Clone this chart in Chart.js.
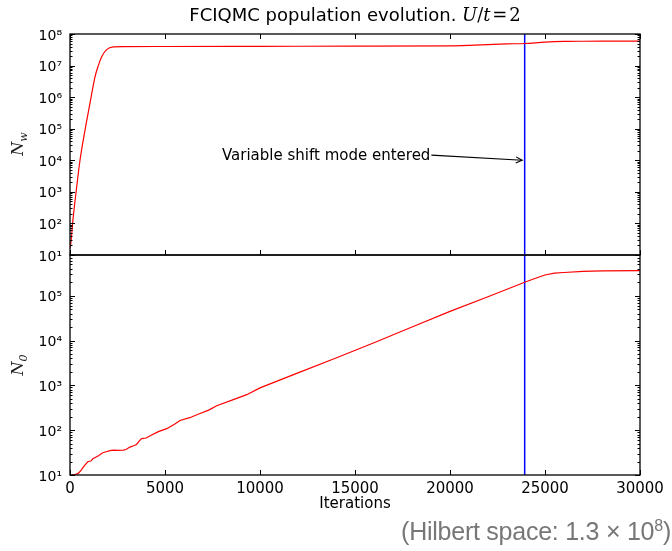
<!DOCTYPE html>
<html><head><meta charset="utf-8">
<script src="https://cdn.jsdelivr.net/npm/chart.js@4"></script>
<style>
html,body{margin:0;padding:0;background:#fff;}
#wrap{position:relative;width:672px;height:551px;overflow:hidden;background:#fff;}
canvas{position:absolute;left:0;top:0;}
.t{position:absolute;white-space:nowrap;}
#title{left:0;width:710px;top:4px;text-align:center;font:18px "DejaVu Sans";color:#000;}
.m{font-family:"DejaVu Serif";}
.mi{font-family:"DejaVu Serif";font-style:italic;}
.yl{font:italic 16px "DejaVu Serif";color:#222;transform:translate(-50%,-50%) rotate(-90deg);}
.yl sub{font-size:11px;}
#hil{right:1px;top:517px;font:25px "Liberation Sans";color:#777;letter-spacing:-0.25px;}
#hil sup{font-size:16px;}
</style></head><body>
<div id="wrap">
<canvas id="c2" width="672" height="551"></canvas>
<canvas id="c1" width="672" height="275"></canvas>
<div class="t" id="title">FCIQMC population evolution. <span class="mi">U</span><span class="m">/</span><span class="mi">t</span><span class="m">&#8202;=&#8202;2</span></div>
<div class="t yl" style="left:19px;top:144px;">N<sub>w</sub></div>
<div class="t yl" style="left:19px;top:365px;">N<sub>0</sub></div>
<div class="t" id="hil">(Hilbert space: 1.3 × 10<sup>8</sup>)</div>
</div>
<script>
// ---- data ----
const iterNw = [0, 50, 150, 350, 526, 790, 1050, 1316, 1490, 1667, 1930, 2280, 2800, 5000, 10000, 15000, 20000, 21000, 22000, 23000, 23930, 25000, 26000, 27000, 28000, 30000];
const valNw  = [16, 25, 120, 1400, 1.0e4, 9e4, 6.3e5, 4.4e6, 1.0e7, 1.9e7, 3.2e7, 3.9e7, 4.0e7, 4.02e7, 4.07e7, 4.12e7, 4.2e7, 4.35e7, 4.6e7, 4.85e7, 5.0e7, 5.5e7, 5.8e7, 5.9e7, 5.93e7, 5.95e7];
const iterN0 = [0, 100, 300, 450, 600, 700, 850, 950, 1100, 1200, 1350, 1500, 1700, 1900, 2100, 2300, 2500, 2800, 2950, 3150, 3350, 3500, 3650, 3770, 4000, 4300, 4650, 5090, 5500, 5790, 6300, 6840, 7300, 7720, 8600, 9300, 10000, 12000, 14000, 16000, 18000, 20000, 22000, 23930, 24500, 25000, 25500, 26000, 27000, 28000, 30000];
const valN0  = [10, 10, 10.3, 11, 13, 15, 18, 20, 20.5, 23, 25, 27, 31, 33, 35, 36, 35.5, 36, 37, 42, 45, 48, 58, 65, 67, 78, 93, 108, 135, 165, 190, 235, 280, 350, 480, 620, 880, 1900, 4070, 8900, 2.0e4, 4.47e4, 9.5e4, 2.0e5, 2.45e5, 2.9e5, 3.2e5, 3.3e5, 3.5e5, 3.6e5, 3.63e5];
const shiftIter = 23930;
const xTicks = [0, 5000, 10000, 15000, 20000, 25000, 30000];
const topRange = [10, 1e8];
const botRange = [10, 8.1e5];
const annot = {text: 'Variable shift mode entered', textX: 8000, textY: 1.35e4, tipX: 23800, tipY: 1e4};

const SUP = '⁰¹²³⁴⁵⁶⁷⁸⁹';
function powLabel(v){
  const e = Math.log10(v);
  if (Math.abs(e - Math.round(e)) > 1e-6) return '';
  return '10' + String(Math.round(e)).split('').map(d => SUP[+d]).join('');
}

function framePlugin(topTicks, bottomTicks){
  return {
    id: 'frame',
    afterDatasetsDraw(chart){
      const {ctx, chartArea: a, scales} = chart;
      const xs = scales.x, ys = scales.y;
      ctx.save();
      ctx.strokeStyle = '#000';
      ctx.lineWidth = 1;
      const ln = (x1,y1,x2,y2) => { ctx.beginPath(); ctx.moveTo(x1,y1); ctx.lineTo(x2,y2); ctx.stroke(); };
      const lo = Math.floor(Math.log10(ys.min)), hi = Math.ceil(Math.log10(ys.max));
      for (let e = lo; e <= hi; e++){
        for (let m = 1; m < 10; m++){
          const v = m * Math.pow(10, e);
          if (v < ys.min * 0.999 || v > ys.max * 1.001) continue;
          const y = Math.round(ys.getPixelForValue(v)) + 0.5;
          const L = m === 1 ? 5 : 2.5;
          ln(a.left, y, a.left + L, y);
          ln(a.right, y, a.right - L, y);
        }
      }
      xTicks.forEach(v => {
        const x = Math.round(xs.getPixelForValue(v)) + 0.5;
        if (topTicks) ln(x, a.top, x, a.top + 5);
        if (bottomTicks) ln(x, a.bottom, x, a.bottom - 5);
      });
      ctx.lineWidth = 1.3;
      ctx.strokeRect(a.left, a.top, a.right - a.left, a.bottom - a.top);
      ctx.restore();
    }
  };
}

const annotPlugin = {
  id: 'annot',
  afterDatasetsDraw(chart){
    const {ctx, scales} = chart;
    const xs = scales.x, ys = scales.y;
    const tx = xs.getPixelForValue(annot.textX), ty = ys.getPixelForValue(annot.textY);
    const px = xs.getPixelForValue(annot.tipX), py = ys.getPixelForValue(annot.tipY);
    ctx.save();
    ctx.font = '15px "DejaVu Sans"';
    ctx.fillStyle = '#000';
    ctx.textBaseline = 'middle';
    ctx.textAlign = 'left';
    ctx.fillText(annot.text, tx, ty);
    const w = ctx.measureText(annot.text).width;
    const sx = tx + w + 1, sy = ty - 1;
    ctx.strokeStyle = '#000';
    ctx.lineWidth = 1.1;
    ctx.beginPath(); ctx.moveTo(sx, sy); ctx.lineTo(px, py); ctx.stroke();
    const ang = Math.atan2(py - sy, px - sx), L = 7, da = 0.45;
    ctx.beginPath();
    ctx.moveTo(px - L*Math.cos(ang - da), py - L*Math.sin(ang - da));
    ctx.lineTo(px, py);
    ctx.lineTo(px - L*Math.cos(ang + da), py - L*Math.sin(ang + da));
    ctx.stroke();
    ctx.restore();
  }
};

function yScale(range){
  return {
    type: 'logarithmic', min: range[0], max: range[1],
    afterFit(s){ s.width = 70; s.paddingTop = 0; s.paddingBottom = 0; },
    grid: {display: false, drawTicks: false},
    border: {display: false},
    ticks: {
      autoSkip: false, padding: 8, color: '#000', labelOffset: 2,
      font: {family: 'DejaVu Sans', size: 14},
      callback: (v) => powLabel(v)
    }
  };
}

const common = {
  responsive: false, animation: false, devicePixelRatio: 1,
  plugins: {legend: {display: false}, tooltip: {enabled: false}, title: {display: false}},
  events: []
};

new Chart(document.getElementById('c1'), {
  type: 'line',
  data: {datasets: [
    {data: iterNw.map((x,i) => ({x, y: valNw[i]})), borderColor: '#ff0000', borderWidth: 1.2, pointRadius: 0, cubicInterpolationMode: 'monotone'},
    {data: [{x: shiftIter, y: topRange[0]}, {x: shiftIter, y: topRange[1]}], borderColor: '#0000ff', borderWidth: 1.5, pointRadius: 0}
  ]},
  options: Object.assign({}, common, {
    layout: {padding: {left: 0, right: 32, top: 34, bottom: 20}},
    scales: {
      x: {type: 'linear', display: false, min: 0, max: 30000,
          ticks: {stepSize: 5000}, grid: {display: false}},
      y: yScale(topRange)
    }
  }),
  plugins: [framePlugin(true, true), annotPlugin]
});

new Chart(document.getElementById('c2'), {
  type: 'line',
  data: {datasets: [
    {data: iterN0.map((x,i) => ({x, y: valN0[i]})), borderColor: '#ff0000', borderWidth: 1.2, pointRadius: 0, tension: 0},
    {data: [{x: shiftIter, y: botRange[0]}, {x: shiftIter, y: botRange[1]}], borderColor: '#0000ff', borderWidth: 1.5, pointRadius: 0}
  ]},
  options: Object.assign({}, common, {
    layout: {padding: {left: 0, right: 32, top: 255, bottom: 36}},
    scales: {
      x: {type: 'linear', min: 0, max: 30000, afterFit(s){ s.height = 40; },
          ticks: {stepSize: 5000, padding: 5, color: '#000', font: {family: 'DejaVu Sans', size: 15}, maxRotation: 0,
                  callback: (v) => String(v)},
          grid: {display: false, drawTicks: false}, border: {display: false},
          title: {display: true, text: 'Iterations', color: '#000', font: {family: 'DejaVu Sans', size: 15}, padding: {top: 0, bottom: 2}}},
      y: yScale(botRange)
    }
  }),
  plugins: [framePlugin(false, true)]
});
</script>
</body></html>
